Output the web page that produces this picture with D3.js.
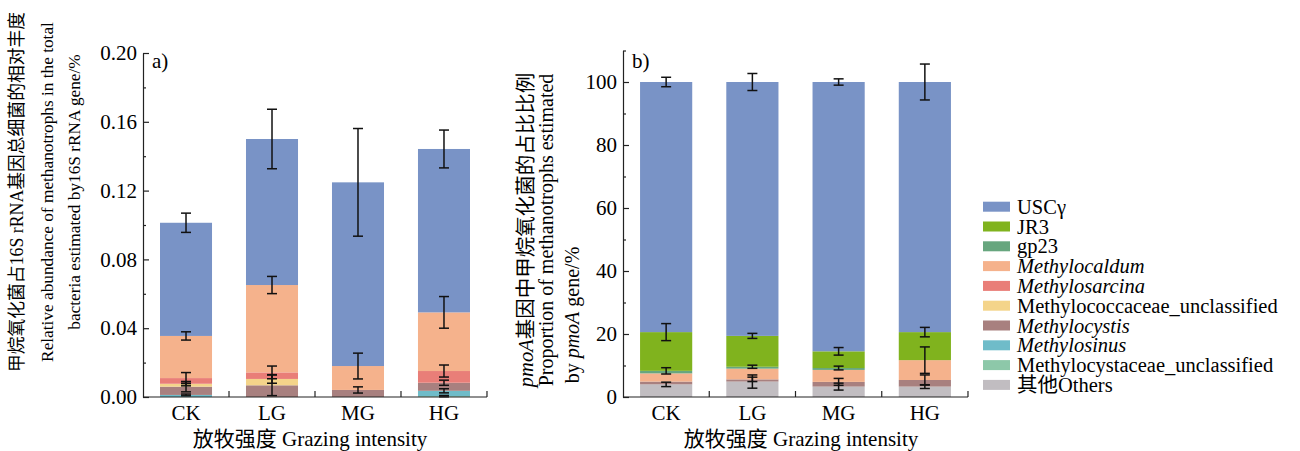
<!DOCTYPE html>
<html>
<head>
<meta charset="utf-8">
<script src="https://cdn.jsdelivr.net/npm/d3@7"></script>
<style>
	body { margin: 0; background: #fff; }
	text { font-family: "Liberation Serif", "Times New Roman", "Noto Sans CJK SC", serif; fill: #000; }
</style>
</head>
<body>
<svg id="chart" width="1300" height="451"></svg>
<script>
const categories = ["CK", "LG", "MG", "HG"];
const taxa = [
	"USCγ", "JR3", "gp23", "Methylocaldum", "Methylosarcina",
	"Methylococcaceae_unclassified", "Methylocystis", "Methylosinus",
	"Methylocystaceae_unclassified", "其他Others"
];
const italicTaxa = ["Methylocaldum", "Methylosarcina", "Methylocystis", "Methylosinus"];
const taxaColors = [
	"#7993c6", "#80b31e", "#67a67e", "#f5b28c", "#e97e78",
	"#f4d48a", "#a8807f", "#6fbcc9", "#8dc8a9", "#c1bdc1"
];

// panel a: rows follow taxa, columns follow categories
const relAbundance = [
	[0.0658, 0.0849, 0.1068, 0.0950],
	[0, 0, 0, 0],
	[0, 0, 0, 0],
	[0.0245, 0.0508, 0.0139, 0.0341],
	[0.0033, 0.0038, 0, 0.0068],
	[0.0017, 0.0037, 0, 0],
	[0.0048, 0.0068, 0.0041, 0.0047],
	[0.0012, 0, 0, 0.0031],
	[0, 0, 0, 0.0005],
	[0, 0, 0, 0]
];
const relError = [
	[0.0056, 0.0173, 0.0313, 0.0110],
	[0, 0, 0, 0],
	[0, 0, 0, 0],
	[0.0024, 0.0050, 0.0075, 0.0092],
	[0.0032, 0.0037, 0, 0.0035],
	[0.0012, 0.0025, 0, 0],
	[0.0030, 0.0060, 0.0018, 0.0015],
	[0.0005, 0, 0, 0.0012],
	[0, 0, 0, 0.0004],
	[0, 0, 0, 0]
];
const relTicks = [0, 0.04, 0.08, 0.12, 0.16, 0.20];
const relMinorTicks = [0.02, 0.06, 0.10, 0.14, 0.18];

// panel b: percentage of pmoA gene
const pmoShare = [
	[79.4, 80.6, 85.5, 79.4],
	[12.3, 9.8, 5.3, 8.9],
	[0.8, 0.6, 0.6, 0],
	[2.6, 3.4, 3.8, 6.3],
	[0, 0, 0, 0],
	[0, 0, 0, 0],
	[0.9, 0.7, 1.5, 2.1],
	[0, 0, 0, 0],
	[0, 0, 0, 0],
	[4.0, 4.9, 3.3, 3.3]
];
const pmoError = [
	[1.5, 2.7, 1.0, 5.7],
	[2.7, 0.8, 1.2, 1.5],
	[1.0, 0.5, 0.6, 0],
	[0, 0, 0, 4.2],
	[0, 0, 0, 0],
	[0, 0, 0, 0],
	[0, 0.7, 1.1, 1.6],
	[0, 0, 0, 0],
	[0, 0, 0, 0],
	[0.7, 2.1, 1.1, 0.6]
];
const pmoTicks = [0, 20, 40, 60, 80, 100];
const pmoMinorTicks = [10, 30, 50, 70, 90, 110];

const svg = d3.select("#chart");

function drawPanel(cfg) {
	const g = svg.append("g");
	const x = d3.scaleBand()
		.domain(categories)
		.range([cfg.left, cfg.right])
		.paddingInner(0.395)
		.paddingOuter(0.1977);
	const y = d3.scaleLinear().domain(cfg.domain).range([397, cfg.top]);

	// build table for the stack, bottom series first
	const table = categories.map((c, j) => {
		const row = { cat: c };
		taxa.forEach((t, i) => (row[t] = cfg.values[i][j]));
		return row;
	});
	const order = taxa.slice().reverse();
	const series = d3.stack().keys(order)(table);

	series.forEach((s) => {
		const ti = taxa.indexOf(s.key);
		g.append("g")
			.selectAll("rect")
			.data(s.filter((d) => d[1] - d[0] > 0))
			.join("rect")
			.attr("x", (d) => x(d.data.cat))
			.attr("width", x.bandwidth())
			.attr("y", (d) => y(d[1]))
			.attr("height", (d) => y(d[0]) - y(d[1]))
			.attr("fill", taxaColors[ti]);
	});

	// error bars at the top of each segment
	const errG = g.append("g").attr("stroke", "#111").attr("stroke-width", 1.5);
	series.forEach((s) => {
		const ti = taxa.indexOf(s.key);
		s.forEach((d, j) => {
			const e = cfg.errors[ti][j];
			if (!e || d[1] - d[0] <= 0) return;
			const cx = x(d.data.cat) + x.bandwidth() / 2;
			const y1 = y(d[1] + e), y2 = y(Math.max(0, d[1] - e));
			errG.append("line").attr("x1", cx).attr("x2", cx).attr("y1", y1).attr("y2", y2);
			errG.append("line").attr("x1", cx - 5).attr("x2", cx + 5).attr("y1", y1).attr("y2", y1);
			errG.append("line").attr("x1", cx - 5).attr("x2", cx + 5).attr("y1", y2).attr("y2", y2);
		});
	});

	// y axis with inward ticks
	const yAxis = d3.axisLeft(y)
		.tickValues(cfg.ticks)
		.tickFormat(cfg.format)
		.tickSizeInner(-6)
		.tickSizeOuter(0)
		.tickPadding(6);
	const ya = g.append("g").attr("transform", `translate(${cfg.left},0)`).call(yAxis);
	ya.selectAll("text").attr("font-size", 21);
	ya.selectAll("line, path").attr("stroke", "#222").attr("stroke-width", 1.2);
	const minor = d3.axisLeft(y).tickValues(cfg.minor).tickFormat("").tickSizeInner(-3).tickSizeOuter(0);
	const ym = g.append("g").attr("transform", `translate(${cfg.left},0)`).call(minor);
	ym.select("path").remove();
	ym.selectAll("line").attr("stroke", "#222").attr("stroke-width", 1.2);

	// x axis: labels centred, ticks on category borders
	const xAxis = d3.axisBottom(x).tickSize(0).tickPadding(8);
	const xa = g.append("g").attr("transform", "translate(0,397)").call(xAxis);
	xa.select("path").attr("d", `M${cfg.left},0H${cfg.right}`).attr("stroke", "#222").attr("stroke-width", 1.2);
	xa.selectAll("text").attr("font-size", 21).attr("dy", "0.71em");
	const borders = categories.map((c) => x(c) + x.bandwidth() + (x.step() - x.bandwidth()) / 2);
	g.append("g")
		.selectAll("line")
		.data(borders)
		.join("line")
		.attr("x1", (d) => d).attr("x2", (d) => d)
		.attr("y1", 397).attr("y2", 391)
		.attr("stroke", "#222").attr("stroke-width", 1.2);

	g.append("text")
		.attr("x", cfg.left + 9).attr("y", 68)
		.attr("font-size", 21)
		.text(cfg.tag);

	g.append("text")
		.attr("x", cfg.titleX).attr("y", 446)
		.attr("text-anchor", "middle")
		.attr("font-size", 21)
		.text("放牧强度 Grazing intensity");
	return g;
}

drawPanel({
	left: 143, right: 487, top: 53, domain: [0, 0.2],
	values: relAbundance, errors: relError,
	ticks: relTicks, minor: relMinorTicks, format: d3.format(".2f"),
	tag: "a)", titleX: 310
});
drawPanel({
	left: 623, right: 968, top: 50.5, domain: [0, 110],
	values: pmoShare, errors: pmoError,
	ticks: pmoTicks, minor: pmoMinorTicks, format: d3.format("d"),
	tag: "b)", titleX: 801
});

// rotated axis titles
function vText(xp, yc, size) {
	return svg.append("text")
		.attr("transform", `translate(${xp},${yc}) rotate(-90)`)
		.attr("text-anchor", "middle")
		.attr("font-size", size);
}
vText(23, 192, 17.8).text("甲烷氧化菌占16S rRNA基因总细菌的相对丰度");
vText(53, 192, 17.3).text("Relative abundance of methanotrophs in the total");
vText(80, 192, 17.3).text("bacteria estimated by16S rRNA gene/%");

const tb1 = vText(533, 230, 20.5);
tb1.append("tspan").attr("font-style", "italic").text("pmoA");
tb1.append("tspan").text("基因中甲烷氧化菌的占比比例");
vText(553, 230, 20).text("Proportion of methanotrophs estimated");
const tb3 = vText(579, 315, 20);
tb3.append("tspan").text("by ");
tb3.append("tspan").attr("font-style", "italic").text("pmoA");
tb3.append("tspan").text(" gene/%");

// legend
const legend = svg.append("g").attr("transform", "translate(983,206.7)");
const rows = legend.selectAll("g").data(taxa).join("g")
	.attr("transform", (d, i) => `translate(0,${i * 19.8})`);
rows.append("rect")
	.attr("x", 0).attr("y", -5).attr("width", 27).attr("height", 10)
	.attr("fill", (d, i) => taxaColors[i]);
rows.append("text")
	.attr("x", 34).attr("y", 7)
	.attr("font-size", 20.5)
	.attr("font-style", (d) => (italicTaxa.includes(d) ? "italic" : "normal"))
	.text((d) => d);
</script>
</body>
</html>
